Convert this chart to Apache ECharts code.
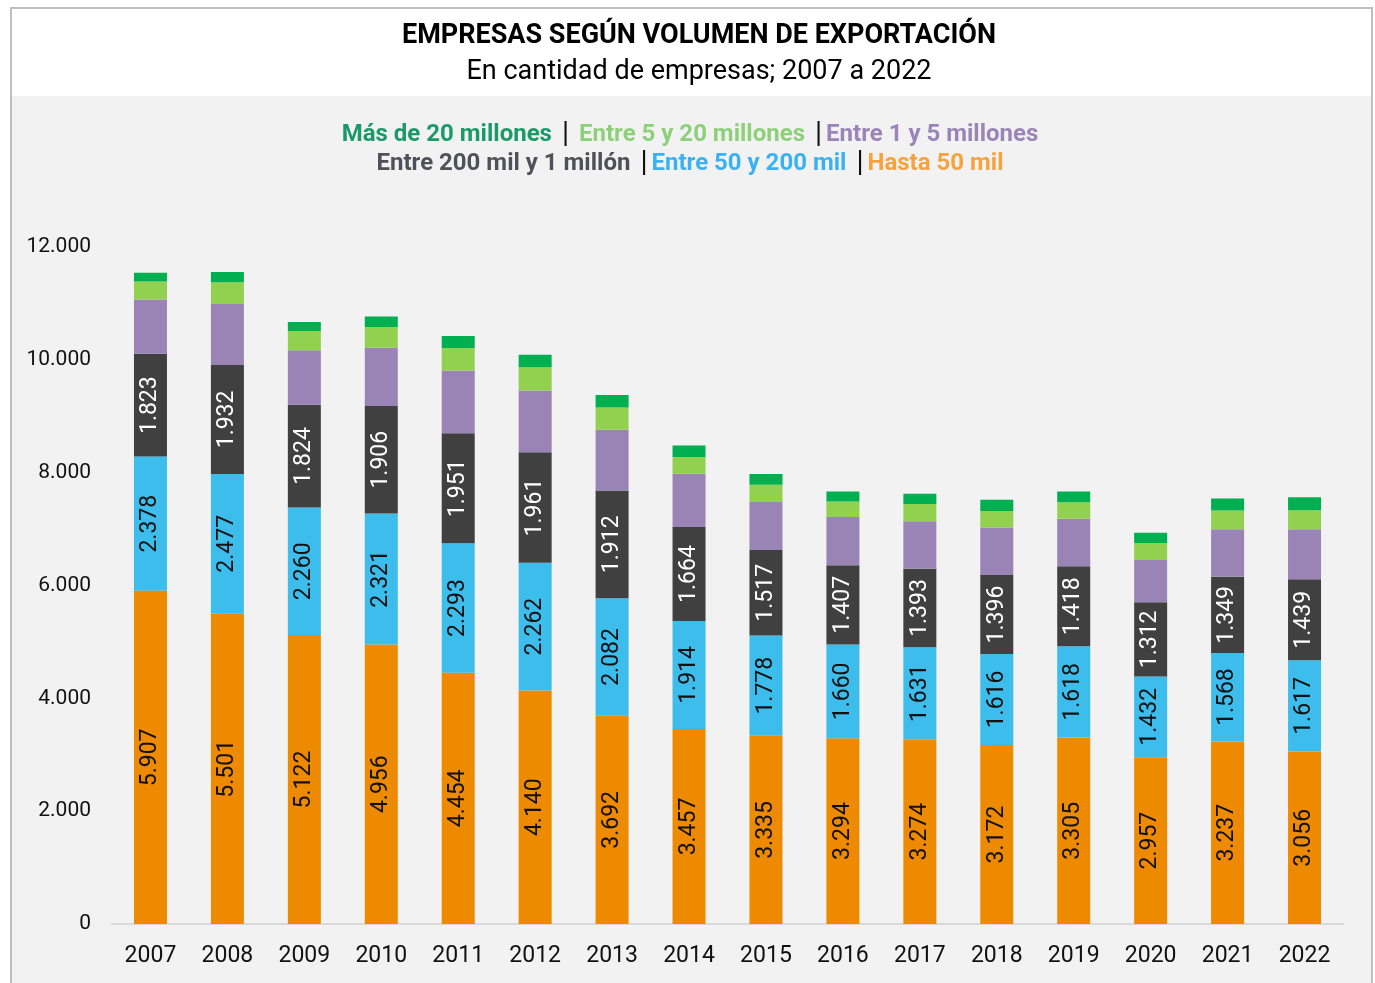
<!DOCTYPE html>
<html>
<head>
<meta charset="utf-8">
<script src="https://cdn.jsdelivr.net/npm/echarts@6/dist/echarts.min.js"></script>
<style>
  html, body { margin: 0; padding: 0; background: #fff; }
  #chart { width: 1375px; height: 983px; }
</style>
</head>
<body>
<div id="chart"></div>
<script>
  // años
  const years = ['2007', '2008', '2009', '2010', '2011', '2012', '2013', '2014', '2015', '2016', '2017', '2018', '2019', '2020', '2021', '2022'];

  // cantidad de empresas por tramo
  const hasta50 = [5907, 5501, 5122, 4956, 4454, 4140, 3692, 3457, 3335, 3294, 3274, 3172, 3305, 2957, 3237, 3056];
  const entre50y200 = [2378, 2477, 2260, 2321, 2293, 2262, 2082, 1914, 1778, 1660, 1631, 1616, 1618, 1432, 1568, 1617];
  const entre200y1m = [1823, 1932, 1824, 1906, 1951, 1961, 1912, 1664, 1517, 1407, 1393, 1396, 1418, 1312, 1349, 1439];
  // sin etiqueta en el original
  const entre1y5 = [963, 1081, 962, 1033, 1111, 1093, 1076, 945, 851, 851, 839, 844, 840, 750, 845, 886];
  const entre5y20 = [319, 385, 344, 367, 402, 413, 395, 296, 307, 278, 308, 291, 294, 301, 330, 337];
  const mas20 = [154, 183, 160, 183, 213, 220, 220, 206, 190, 177, 183, 200, 190, 184, 213, 230];

  const yTicks = [0, 2000, 4000, 6000, 8000, 10000, 12000];

  const fmt = (v) => String(v).replace(/\B(?=(\d{3})+(?!\d))/g, '.');
  const font = 'Roboto, "Noto Sans", sans-serif';

  const chart = echarts.init(document.getElementById('chart'));

  function barSeries(name, data, color, labelColor) {
    return {
      type: 'bar',
      name: name,
      stack: 'total',
      data: data,
      barWidth: 33,
      itemStyle: { color: color },
      label: labelColor ? {
        show: true,
        position: 'inside',
        rotate: 90,
        color: labelColor,
        fontFamily: font,
        fontSize: 23,
        formatter: (p) => fmt(p.value)
      } : { show: false }
    };
  }

  // estilos del texto de la leyenda (texto suelto con separadores "|")
  const leg = (c) => ({ fontFamily: font, fontWeight: 'bold', fontSize: 24, fill: c });
  const sepWide = { fontFamily: font, fontSize: 29, fill: '#111', padding: [0, 10, 0, 10] };
  const sepNarrow = { fontFamily: font, fontSize: 29, fill: '#111', padding: [0, 4, 0, 10] };

  const option = {
    animation: false,
    backgroundColor: '#fff',
    graphic: [
      // marco y fondo gris
      { type: 'rect', shape: { x: 11, y: 8, width: 1361, height: 990 }, style: { fill: '#fff', stroke: '#BFBFBF', lineWidth: 2 }, z: -10 },
      { type: 'rect', shape: { x: 12, y: 96, width: 1359, height: 900 }, style: { fill: '#F2F2F2' }, z: -9 },
      {
        type: 'text', x: 699, y: 36,
        style: { text: 'EMPRESAS SEGÚN VOLUMEN DE EXPORTACIÓN', font: 'bold 27px ' + font, fill: '#000', align: 'center', verticalAlign: 'middle' }
      },
      {
        type: 'text', x: 699, y: 72,
        style: { text: 'En cantidad de empresas; 2007 a 2022', font: '27px ' + font, fill: '#000', align: 'center', verticalAlign: 'middle' }
      },
      {
        type: 'text', x: 690, y: 135,
        style: {
          text: '{a|Más de 20 millones}{s||}{b|Entre 5 y 20 millones}{t||}{c|Entre 1 y 5 millones}',
          align: 'center', verticalAlign: 'middle',
          rich: { a: leg('#1A9A6C'), b: leg('#8ED07A'), c: leg('#9A84B8'), s: sepWide, t: sepNarrow }
        }
      },
      {
        type: 'text', x: 690, y: 164,
        style: {
          text: '{d|Entre 200 mil y 1 millón}{t||}{e|Entre 50 y 200 mil}{t||}{f|Hasta 50 mil}',
          align: 'center', verticalAlign: 'middle',
          rich: { d: leg('#505058'), e: leg('#3AB2F2'), f: leg('#F7A23C'), t: sepNarrow }
        }
      }
    ],
    grid: {
      left: 112,
      right: 32,
      top: 247,
      bottom: 59,
      containLabel: false
    },
    xAxis: {
      type: 'category',
      data: years,
      axisTick: { show: false },
      axisLine: { lineStyle: { color: '#D9D9D9', width: 2 } },
      axisLabel: { color: '#111', fontFamily: font, fontSize: 23, margin: 21 }
    },
    yAxis: {
      type: 'value',
      min: yTicks[0],
      max: yTicks[yTicks.length - 1],
      interval: 2000,
      axisLine: { show: false },
      axisTick: { show: false },
      splitLine: { show: false },
      axisLabel: { color: '#111', fontFamily: font, fontSize: 21, margin: 21, formatter: (v) => fmt(v) }
    },
    series: [
      barSeries('Hasta 50 mil', hasta50, '#EE8A00', '#111'),
      barSeries('Entre 50 y 200 mil', entre50y200, '#3CBDEC', '#111'),
      barSeries('Entre 200 mil y 1 millón', entre200y1m, '#404040', '#fff'),
      barSeries('Entre 1 y 5 millones', entre1y5, '#9A84B5'),
      barSeries('Entre 5 y 20 millones', entre5y20, '#92D050'),
      barSeries('Más de 20 millones', mas20, '#00B050')
    ]
  };

  chart.setOption(option);
</script>
</body>
</html>
